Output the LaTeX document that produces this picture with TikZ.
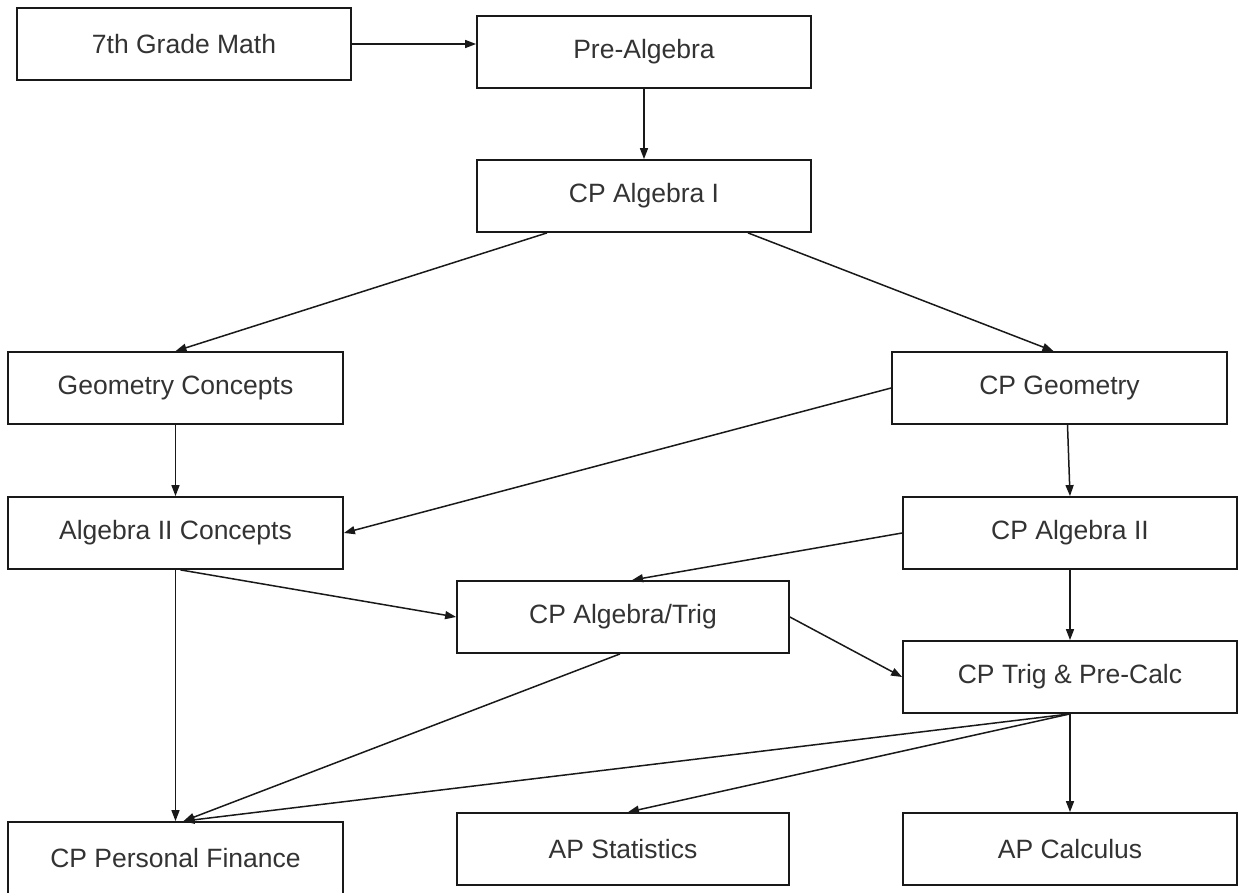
\documentclass[tikz,border=0pt]{standalone}
\usepackage{fontspec}
\setmainfont{Liberation Sans}
\usetikzlibrary{arrows.meta}
\begin{document}
\begin{tikzpicture}[x=1pt,y=-1pt,
  course/.style={draw=black!90,line width=1.8pt,rectangle,inner sep=0pt,
    minimum width=334pt,minimum height=72pt,text=black!80,
    font=\fontsize{26.5}{32}\selectfont},
  link/.style={draw=black!90,line width=1.5pt,-{Triangle[length=11pt,width=8pt]}}]
\useasboundingbox (0,0) rectangle (1241,893);
\node[course] (m7) at (184,44) {7th Grade Math};
\node[course] (pre) at (644,52) {Pre-Algebra};
\node[course] (alg1) at (644,196) {CP Algebra I};
\node[course,minimum width=335pt] (geoc) at (175.5,388) {Geometry Concepts};
\node[course,minimum width=335pt] (cpgeo) at (1059.5,388) {CP Geometry};
\node[course,minimum width=335pt] (alg2c) at (175.5,533) {Algebra II Concepts};
\node[course] (cpalg2) at (1070,533) {CP Algebra II};
\node[course,minimum width=332pt] (algtrig) at (623,617) {CP Algebra/Trig};
\node[course] (trig) at (1070,677) {CP Trig \& Pre-Calc};
\node[course,minimum width=335pt] (pf) at (175.5,858) {CP Personal Finance};
\node[course,minimum width=332pt] (stats) at (623,849) {AP Statistics};
\node[course] (calc) at (1070,849) {AP Calculus};

\draw[link] (m7.east) -- (m7.east -| pre.west);
\draw[link] (pre.south) -- (alg1.north);
\draw[link] ([xshift=-97pt]alg1.south) -- (geoc.north);
\draw[link] ([xshift=104pt]alg1.south) -- ([xshift=-6pt]cpgeo.north);
\draw[link] (cpgeo.west) -- (alg2c.east);
\draw[link] (geoc.south) -- (alg2c.north);
\draw[link] ([xshift=8pt]cpgeo.south) -- (cpalg2.north);
\draw[link] (cpalg2.west) -- ([xshift=9pt]algtrig.north);
\draw[link] ([xshift=5pt]alg2c.south) -- (algtrig.west);
\draw[link] (alg2c.south) -- (pf.north);
\draw[link] ([xshift=-3pt]algtrig.south) -- ([xshift=8pt]pf.north);
\draw[link] (algtrig.east) -- (trig.west);
\draw[link] (cpalg2.south) -- (trig.north);
\draw[link] (trig.south) -- ([xshift=8pt]pf.north);
\draw[link] (trig.south) -- ([xshift=5pt]stats.north);
\draw[link] (trig.south) -- (calc.north);
\end{tikzpicture}
\end{document}
